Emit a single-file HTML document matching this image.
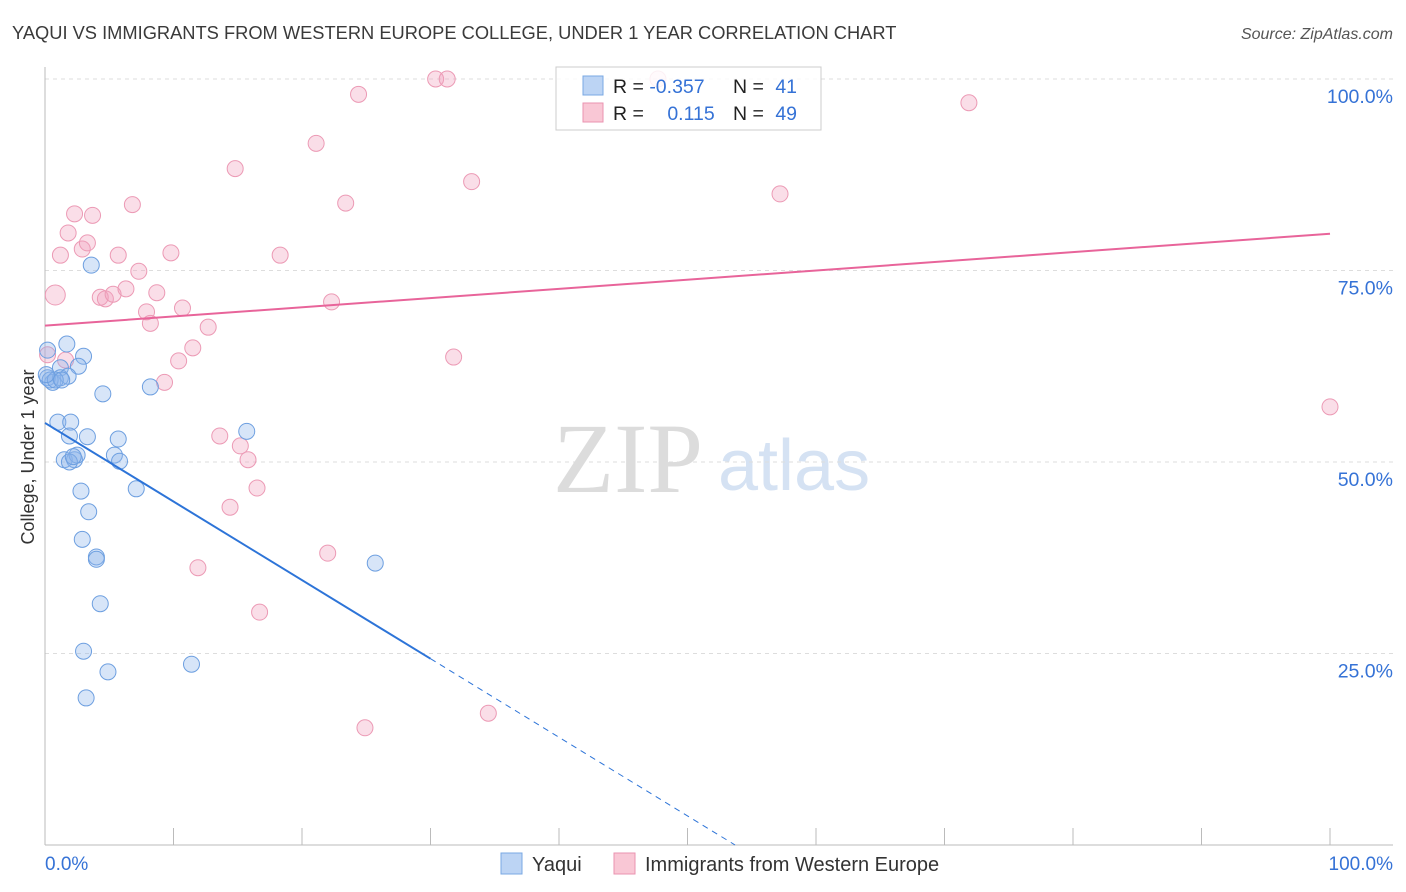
<!DOCTYPE html>
<html><head><meta charset="utf-8">
<style>
body{margin:0;background:#fff;font-family:"Liberation Sans",sans-serif;}
svg{display:block}
</style></head>
<body>
<svg id="chart" width="1406" height="892" viewBox="0 0 1406 892">
<text x="12" y="39" font-size="18.3" fill="#3a3a3a">YAQUI VS IMMIGRANTS FROM WESTERN EUROPE COLLEGE, UNDER 1 YEAR CORRELATION CHART</text>
<text x="1393" y="39" font-size="16" fill="#555" font-style="italic" text-anchor="end">Source: ZipAtlas.com</text>
<g>
<text x="553" y="492" font-family="Liberation Serif,serif" font-size="100" fill="#dcdcdc">ZIP</text>
<text x="718" y="490" font-size="72" fill="#d5e2f3">atlas</text>
</g>
<g id="grid"></g>
<g id="axes"></g>
<g id="marks"></g>
<g id="lines"></g>
<text x="34" y="457" font-size="18" fill="#333" text-anchor="middle" transform="rotate(-90 34 457)">College, Under 1 year</text>
<g>
<rect x="556" y="67" width="265" height="63" fill="rgba(255,255,255,0.85)" stroke="#ccc"/>
<rect x="583" y="76" width="20" height="19" fill="#bcd4f4" stroke="#7aa8e3"/>
<rect x="583" y="103" width="20" height="19" fill="#f9c7d5" stroke="#ea93b0"/>
<text x="613" y="93" font-size="19.5" fill="#222">R = <tspan fill="#3572d6">-0.357</tspan></text>
<text x="733" y="93" font-size="19.5" fill="#222">N = <tspan fill="#3572d6" dx="6">41</tspan></text>
<text x="613" y="120" font-size="19.5" fill="#222">R = <tspan fill="#3572d6" dx="18">0.115</tspan></text>
<text x="733" y="120" font-size="19.5" fill="#222">N = <tspan fill="#3572d6" dx="6">49</tspan></text>
</g>
<g>
<rect x="501" y="853" width="21" height="21" fill="#bcd4f4" stroke="#7aa8e3"/>
<text x="532" y="871" font-size="20" fill="#333">Yaqui</text>
<rect x="614" y="853" width="21" height="21" fill="#f9c7d5" stroke="#ea93b0"/>
<text x="645" y="871" font-size="20" fill="#333">Immigrants from Western Europe</text>
</g>
</svg>
<script>
const blueX=[0.2,1.7,3.0,1.2,2.6,0.2,0.6,1.2,1.8,3.6,4.5,8.2,1.0,2.0,1.9,3.3,5.7,15.7,1.5,2.3,2.5,5.4,5.8,2.8,7.1,3.4,2.9,4.0,4.0,25.7,4.3,3.0,11.4,4.9,3.2,0.4,0.8,0.1,1.3,1.9,2.2];
const blueY=[64.6,65.4,63.8,62.3,62.5,61.0,60.4,61.0,61.2,75.7,58.9,59.8,55.2,55.2,53.4,53.3,53.0,54.0,50.3,50.3,50.9,50.9,50.1,46.2,46.5,43.5,39.9,37.6,37.3,36.8,31.5,25.3,23.6,22.6,19.2,60.7,60.7,61.4,60.7,50.0,50.7];
const pinkX=[0.8,1.2,1.8,2.3,3.7,2.9,3.3,4.3,4.7,5.3,6.3,5.7,6.8,7.3,7.9,8.2,8.7,9.8,10.7,10.4,9.3,11.5,12.7,14.8,18.3,21.1,22.3,23.4,24.4,30.4,31.3,33.2,31.8,13.6,15.2,15.8,16.5,14.4,11.9,16.7,22.0,24.9,34.5,47.7,57.2,71.9,100,0.2,1.6];
const pinkY=[71.8,77.0,79.9,82.4,82.2,77.8,78.6,71.5,71.3,71.9,72.6,77.0,83.6,74.9,69.6,68.1,72.1,77.3,70.1,63.2,60.4,64.9,67.6,88.3,77.0,91.6,70.9,83.8,98.0,100,100,86.6,63.7,53.4,52.1,50.3,46.6,44.1,36.2,30.4,38.1,15.3,17.2,100,85.0,96.9,57.2,64.0,63.3];
const yTicks=[25,50,75,100];
const yTickLabels=["25.0%","50.0%","75.0%","100.0%"];
const xTickLabels=["0.0%","100.0%"];
const blueTrend=[55.1,-1.026]; // intercept, slope
const pinkTrend=[67.8,0.12];

const NS="http://www.w3.org/2000/svg";
const X0=45,X1=1330,Y0=845,Y100=79;
const sx=v=>X0+(X1-X0)*v/100;
const sy=v=>Y0-(Y0-Y100)*v/100;
function mk(tag,attrs,parent){const e=document.createElementNS(NS,tag);for(const k in attrs)e.setAttribute(k,attrs[k]);parent.appendChild(e);return e;}
const grid=document.getElementById('grid'),axes=document.getElementById('axes'),marks=document.getElementById('marks'),lines=document.getElementById('lines');
yTicks.forEach((t,i)=>{
 const l=mk('line',{x1:X0,x2:1393,y1:sy(t),y2:sy(t),stroke:'#ddd','stroke-dasharray':'4,4'},grid);
 
 
 const tx=mk('text',{x:1393,y:sy(t)+24,'font-size':19.5,fill:'#3572d6','text-anchor':'end'},axes);
 tx.textContent=yTickLabels[i];
 
 
});
mk('line',{x1:X0,x2:X0,y1:67,y2:Y0,stroke:'#bbb'},axes);
mk('line',{x1:X0,x2:1393,y1:Y0,y2:Y0,stroke:'#bbb'},axes);
for(let i=0;i<=10;i++){const t=mk('line',{x1:sx(i*10),x2:sx(i*10),y1:828,y2:Y0,stroke:'#bbb'},axes);
 
 }
const xl0=mk('text',{x:45,y:870,'font-size':19,fill:'#3572d6'},axes);xl0.textContent=xTickLabels[0];


const xl1=mk('text',{x:1393,y:870,'font-size':19,fill:'#3572d6','text-anchor':'end'},axes);xl1.textContent=xTickLabels[1];


pinkX.forEach((v,i)=>{const c=mk('circle',{cx:sx(v),cy:sy(pinkY[i]),r:i==0?10:8,fill:'rgba(242,160,188,0.35)',stroke:'#ec9ab5','stroke-width':1},marks);
 
 });
blueX.forEach((v,i)=>{const c=mk('circle',{cx:sx(v),cy:sy(blueY[i]),r:8,fill:'rgba(140,180,235,0.35)',stroke:'#6d9fe0','stroke-width':1},marks);
 
 });
const bEnd=-blueTrend[0]/blueTrend[1];
const b1=mk('line',{x1:sx(0),y1:sy(blueTrend[0]),x2:sx(30),y2:sy(blueTrend[0]+30*blueTrend[1]),stroke:'#2d74d8','stroke-width':2},lines);


const b2=mk('line',{x1:sx(30),y1:sy(blueTrend[0]+30*blueTrend[1]),x2:sx(bEnd),y2:sy(0),stroke:'#2d74d8','stroke-width':1,'stroke-dasharray':'6,5'},lines);


const p1=mk('line',{x1:sx(0),y1:sy(pinkTrend[0]),x2:sx(100),y2:sy(pinkTrend[0]+100*pinkTrend[1]),stroke:'#e8649a','stroke-width':2},lines);


</script>
</body></html>
